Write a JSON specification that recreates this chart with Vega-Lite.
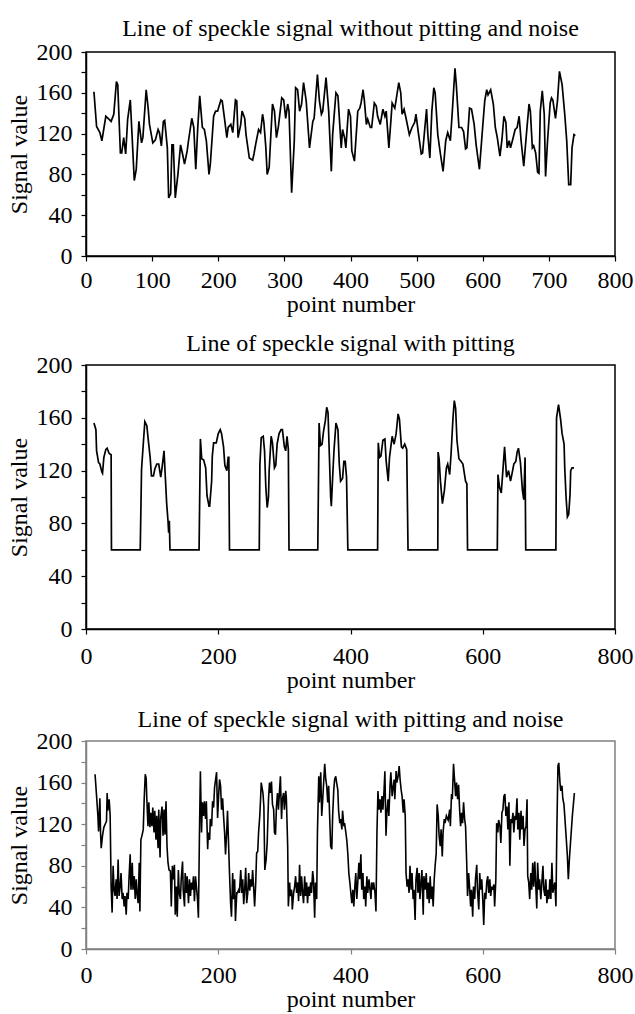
{
  "$schema": "https://vega.github.io/schema/vega-lite/v6.json",
  "padding": {"left": 6, "top": 16, "right": 0, "bottom": 0},
  "spacing": 14,
  "config": {
    "font": "Liberation Serif",
    "view": {"stroke": "black", "strokeWidth": 1.5},
    "axis": {
      "grid": false,
      "labelFont": "Liberation Serif", "labelFontSize": 24, "labelColor": "black",
      "titleFont": "Liberation Serif", "titleFontSize": 24, "titleFontWeight": "normal", "titleColor": "black",
      "domainColor": "black", "domainWidth": 1.5, "tickColor": "black", "tickWidth": 1.2, "tickSize": 5,
      "labelOverlap": false, "labelFlush": false
    },
    "axisX": {"labelPadding": 7, "titlePadding": 0},
    "axisY": {"labelPadding": 9, "titlePadding": 5},
    "title": {"font": "Liberation Serif", "fontSize": 24, "fontWeight": "normal", "color": "black", "offset": -1}
  },
  "datasets": {
    "p1": [
      {"x":12,"y":161},{"x":16,"y":127},{"x":21,"y":121},{"x":24,"y":113},{"x":30,"y":137},{"x":35,"y":134},{"x":38,"y":132},{"x":42,"y":139},{"x":46,"y":171},{"x":48,"y":168},{"x":52,"y":101},{"x":54,"y":101},{"x":57,"y":116},{"x":60,"y":100},{"x":63,"y":134},{"x":67,"y":153},{"x":69,"y":127},{"x":73,"y":74},{"x":76,"y":85},{"x":80,"y":132},{"x":84,"y":111},{"x":86,"y":116},{"x":91,"y":163},{"x":94,"y":145},{"x":96,"y":129},{"x":101,"y":111},{"x":105,"y":114},{"x":109,"y":124},{"x":111,"y":121},{"x":114,"y":108},{"x":117,"y":132},{"x":119,"y":133},{"x":123,"y":106},{"x":125,"y":57},{"x":128,"y":61},{"x":130,"y":109},{"x":132,"y":109},{"x":135,"y":57},{"x":139,"y":80},{"x":143,"y":109},{"x":146,"y":100},{"x":149,"y":90},{"x":153,"y":103},{"x":155,"y":113},{"x":160,"y":135},{"x":163,"y":126},{"x":166,"y":85},{"x":169,"y":126},{"x":172,"y":157},{"x":176,"y":126},{"x":179,"y":124},{"x":182,"y":113},{"x":186,"y":80},{"x":188,"y":90},{"x":193,"y":137},{"x":196,"y":142},{"x":199,"y":142},{"x":204,"y":153},{"x":206,"y":152},{"x":210,"y":132},{"x":213,"y":116},{"x":215,"y":126},{"x":219,"y":129},{"x":222,"y":121},{"x":226,"y":153},{"x":228,"y":152},{"x":230,"y":116},{"x":234,"y":129},{"x":236,"y":142},{"x":240,"y":135},{"x":242,"y":119},{"x":247,"y":96},{"x":252,"y":94},{"x":254,"y":100},{"x":257,"y":111},{"x":261,"y":124},{"x":264,"y":121},{"x":267,"y":139},{"x":269,"y":131},{"x":272,"y":106},{"x":274,"y":80},{"x":277,"y":87},{"x":282,"y":149},{"x":285,"y":142},{"x":288,"y":116},{"x":291,"y":127},{"x":296,"y":155},{"x":299,"y":153},{"x":302,"y":135},{"x":305,"y":149},{"x":307,"y":142},{"x":311,"y":62},{"x":315,"y":113},{"x":317,"y":165},{"x":320,"y":163},{"x":323,"y":142},{"x":326,"y":149},{"x":329,"y":170},{"x":333,"y":152},{"x":338,"y":106},{"x":343,"y":132},{"x":345,"y":135},{"x":350,"y":178},{"x":353,"y":152},{"x":356,"y":139},{"x":358,"y":142},{"x":363,"y":175},{"x":367,"y":142},{"x":371,"y":83},{"x":373,"y":119},{"x":378,"y":160},{"x":381,"y":157},{"x":386,"y":106},{"x":388,"y":124},{"x":391,"y":116},{"x":393,"y":106},{"x":397,"y":144},{"x":400,"y":137},{"x":402,"y":103},{"x":406,"y":93},{"x":411,"y":142},{"x":414,"y":145},{"x":416,"y":150},{"x":419,"y":163},{"x":421,"y":152},{"x":424,"y":129},{"x":426,"y":134},{"x":430,"y":126},{"x":432,"y":126},{"x":436,"y":150},{"x":439,"y":147},{"x":441,"y":137},{"x":445,"y":129},{"x":449,"y":144},{"x":452,"y":137},{"x":454,"y":142},{"x":458,"y":106},{"x":461,"y":132},{"x":463,"y":150},{"x":467,"y":145},{"x":469,"y":153},{"x":473,"y":170},{"x":476,"y":160},{"x":478,"y":139},{"x":481,"y":144},{"x":484,"y":135},{"x":489,"y":119},{"x":493,"y":126},{"x":497,"y":131},{"x":499,"y":139},{"x":503,"y":119},{"x":507,"y":100},{"x":509,"y":101},{"x":515,"y":144},{"x":517,"y":119},{"x":520,"y":96},{"x":523,"y":142},{"x":526,"y":165},{"x":528,"y":160},{"x":532,"y":119},{"x":536,"y":100},{"x":540,"y":83},{"x":544,"y":113},{"x":547,"y":121},{"x":551,"y":113},{"x":554,"y":142},{"x":558,"y":184},{"x":560,"y":168},{"x":564,"y":126},{"x":568,"y":126},{"x":571,"y":122},{"x":574,"y":105},{"x":576,"y":106},{"x":580,"y":145},{"x":583,"y":144},{"x":587,"y":129},{"x":590,"y":109},{"x":595,"y":85},{"x":599,"y":119},{"x":603,"y":152},{"x":606,"y":163},{"x":608,"y":158},{"x":612,"y":163},{"x":616,"y":149},{"x":619,"y":126},{"x":622,"y":116},{"x":626,"y":98},{"x":629,"y":114},{"x":632,"y":137},{"x":635,"y":131},{"x":637,"y":106},{"x":640,"y":113},{"x":642,"y":106},{"x":646,"y":116},{"x":649,"y":124},{"x":652,"y":126},{"x":655,"y":137},{"x":658,"y":113},{"x":662,"y":88},{"x":666,"y":119},{"x":670,"y":149},{"x":672,"y":142},{"x":675,"y":106},{"x":677,"y":108},{"x":680,"y":101},{"x":683,"y":82},{"x":685,"y":81},{"x":687,"y":142},{"x":690,"y":162},{"x":693,"y":139},{"x":695,"y":78},{"x":698,"y":113},{"x":702,"y":150},{"x":704,"y":155},{"x":706,"y":153},{"x":710,"y":135},{"x":713,"y":152},{"x":716,"y":181},{"x":720,"y":168},{"x":724,"y":139},{"x":727,"y":113},{"x":730,"y":70},{"x":733,"y":70},{"x":735,"y":106},{"x":738,"y":119},{"x":740,"y":118}
    ],
    "p2": [
      {"x":12,"y":156},{"x":15,"y":151},{"x":16,"y":135},{"x":19,"y":126},{"x":21,"y":125},{"x":24,"y":119},{"x":25,"y":118},{"x":27,"y":130},{"x":30,"y":136},{"x":32,"y":137},{"x":35,"y":133},{"x":38,"y":132},{"x":38.5,"y":60},{"x":82,"y":60},{"x":84,"y":121},{"x":87,"y":143},{"x":89,"y":157},{"x":92,"y":154},{"x":94,"y":144},{"x":97,"y":130},{"x":99,"y":116},{"x":102,"y":116},{"x":104,"y":121},{"x":107,"y":125},{"x":110,"y":125},{"x":113,"y":115},{"x":115,"y":122},{"x":118,"y":135},{"x":120,"y":115},{"x":122,"y":95},{"x":124,"y":82},{"x":125,"y":73},{"x":126,"y":82},{"x":127,"y":60},{"x":171,"y":60},{"x":173,"y":144},{"x":175,"y":129},{"x":178,"y":128},{"x":181,"y":122},{"x":183,"y":101},{"x":186,"y":93},{"x":187,"y":93},{"x":190,"y":112},{"x":191,"y":131},{"x":193,"y":141},{"x":197,"y":141},{"x":200,"y":148},{"x":203,"y":151},{"x":205,"y":148},{"x":208,"y":138},{"x":210,"y":124},{"x":213,"y":120},{"x":215,"y":130},{"x":216,"y":130},{"x":217,"y":60},{"x":262,"y":60},{"x":263,"y":125},{"x":265,"y":145},{"x":268,"y":146},{"x":270,"y":135},{"x":272,"y":107},{"x":274,"y":92},{"x":276,"y":100},{"x":277,"y":120},{"x":280,"y":146},{"x":282,"y":141},{"x":285,"y":122},{"x":287,"y":124},{"x":289,"y":140},{"x":292,"y":148},{"x":295,"y":151},{"x":297,"y":151},{"x":300,"y":138},{"x":302,"y":135},{"x":304,"y":146},{"x":306,"y":136},{"x":307,"y":60},{"x":350.5,"y":60},{"x":352.5,"y":156},{"x":354.5,"y":139},{"x":357,"y":140},{"x":359,"y":149},{"x":362,"y":158},{"x":364,"y":168},{"x":366,"y":164},{"x":368,"y":132},{"x":370,"y":100},{"x":371,"y":93},{"x":373,"y":115},{"x":375,"y":135},{"x":378,"y":156},{"x":381,"y":151},{"x":383,"y":125},{"x":385,"y":112},{"x":388,"y":114},{"x":390,"y":127},{"x":392,"y":127},{"x":394,"y":115},{"x":396,"y":60},{"x":441,"y":60},{"x":442,"y":141},{"x":444,"y":130},{"x":446,"y":131},{"x":449,"y":143},{"x":452,"y":144},{"x":454,"y":127},{"x":457,"y":112},{"x":459,"y":130},{"x":463,"y":146},{"x":466,"y":140},{"x":469,"y":148},{"x":472,"y":163},{"x":474,"y":159},{"x":477,"y":138},{"x":479,"y":137},{"x":482,"y":140},{"x":485,"y":136},{"x":487,"y":60},{"x":532,"y":60},{"x":532.5,"y":134},{"x":534,"y":129},{"x":536,"y":112},{"x":539,"y":95},{"x":542,"y":105},{"x":545,"y":122},{"x":547,"y":125},{"x":550,"y":117},{"x":552,"y":132},{"x":555,"y":160},{"x":557,"y":173},{"x":559,"y":167},{"x":561,"y":143},{"x":564,"y":129},{"x":567,"y":127},{"x":570,"y":125},{"x":574,"y":112},{"x":576,"y":110},{"x":577,"y":60},{"x":622,"y":60},{"x":623,"y":117},{"x":625.5,"y":107},{"x":628,"y":103},{"x":631,"y":124},{"x":633,"y":138},{"x":636,"y":115},{"x":639,"y":120},{"x":642,"y":112},{"x":644,"y":117},{"x":647,"y":125},{"x":650,"y":127},{"x":652,"y":134},{"x":654,"y":137},{"x":657,"y":126},{"x":660,"y":105},{"x":662,"y":98},{"x":664,"y":130},{"x":665,"y":60},{"x":710.6,"y":60},{"x":711.6,"y":160},{"x":714.6,"y":170},{"x":717.7,"y":159},{"x":720,"y":148},{"x":723,"y":140},{"x":724,"y":122},{"x":726,"y":100},{"x":728,"y":85},{"x":730,"y":87},{"x":732,"y":102},{"x":733,"y":120},{"x":735,"y":122},{"x":738,"y":122}
    ],
    "p3": [
      {"x":13.7,"y":168},{"x":16,"y":147},{"x":18,"y":128},{"x":19,"y":113},{"x":21,"y":145},{"x":22,"y":112},{"x":23,"y":97},{"x":25,"y":109},{"x":27,"y":117},{"x":29,"y":120},{"x":31,"y":123},{"x":32,"y":150},{"x":33,"y":133},{"x":35,"y":144},{"x":36.5,"y":129},{"x":38,"y":60},{"x":39.5,"y":35},{"x":41,"y":80},{"x":42.5,"y":57},{"x":44,"y":51},{"x":45.6,"y":67},{"x":47,"y":48},{"x":48.6,"y":86},{"x":50,"y":51},{"x":51.6,"y":60},{"x":53,"y":73},{"x":54.7,"y":48},{"x":56,"y":54},{"x":57.7,"y":41},{"x":59,"y":51},{"x":60.8,"y":33},{"x":62,"y":54},{"x":63.8,"y":48},{"x":65,"y":67},{"x":66.8,"y":91},{"x":68,"y":57},{"x":70,"y":83},{"x":71,"y":57},{"x":73,"y":70},{"x":74.4,"y":48},{"x":76,"y":67},{"x":77.5,"y":51},{"x":79,"y":44},{"x":80.5,"y":83},{"x":81.5,"y":36},{"x":83,"y":105},{"x":85,"y":110},{"x":86.6,"y":115},{"x":88,"y":144},{"x":89.6,"y":168},{"x":91,"y":164},{"x":92,"y":144},{"x":93.7,"y":118},{"x":95,"y":141},{"x":96.7,"y":117},{"x":98,"y":131},{"x":99.7,"y":118},{"x":101,"y":136},{"x":102.8,"y":112},{"x":104,"y":133},{"x":105.8,"y":105},{"x":107,"y":128},{"x":109,"y":97},{"x":110,"y":134},{"x":112,"y":88},{"x":113,"y":126},{"x":115,"y":137},{"x":116.5,"y":109},{"x":118,"y":134},{"x":119.5,"y":110},{"x":121,"y":142},{"x":122.5,"y":99},{"x":124,"y":83},{"x":125.6,"y":76},{"x":127.6,"y":75},{"x":129,"y":41},{"x":130.6,"y":80},{"x":132,"y":67},{"x":133.7,"y":81},{"x":135,"y":33},{"x":136.7,"y":60},{"x":138,"y":31},{"x":139.7,"y":76},{"x":141,"y":54},{"x":142.8,"y":48},{"x":144,"y":67},{"x":146,"y":84},{"x":147,"y":57},{"x":149,"y":41},{"x":150,"y":73},{"x":152,"y":54},{"x":153,"y":70},{"x":155,"y":44},{"x":156.5,"y":67},{"x":158,"y":51},{"x":159.5,"y":64},{"x":161,"y":57},{"x":162.5,"y":70},{"x":164,"y":46},{"x":165.6,"y":70},{"x":167,"y":60},{"x":168.6,"y":48},{"x":170,"y":30},{"x":171.6,"y":112},{"x":173,"y":171},{"x":174.7,"y":112},{"x":176,"y":141},{"x":177.7,"y":128},{"x":179,"y":142},{"x":180.8,"y":125},{"x":182,"y":142},{"x":184,"y":96},{"x":185,"y":112},{"x":187,"y":105},{"x":188,"y":125},{"x":190,"y":118},{"x":191.4,"y":142},{"x":193,"y":136},{"x":194.4,"y":155},{"x":196,"y":163},{"x":197.5,"y":170},{"x":199,"y":126},{"x":200.5,"y":147},{"x":202,"y":163},{"x":203.5,"y":157},{"x":205,"y":134},{"x":206.6,"y":145},{"x":208,"y":128},{"x":209.6,"y":112},{"x":211,"y":91},{"x":212.7,"y":112},{"x":214,"y":133},{"x":215.7,"y":99},{"x":217,"y":73},{"x":218.7,"y":44},{"x":220,"y":31},{"x":221.8,"y":73},{"x":223,"y":48},{"x":224.8,"y":67},{"x":226,"y":27},{"x":228,"y":54},{"x":229,"y":54},{"x":231,"y":57},{"x":232,"y":54},{"x":234,"y":76},{"x":235.6,"y":54},{"x":237,"y":67},{"x":238.5,"y":43},{"x":240,"y":57},{"x":241.5,"y":78},{"x":243,"y":44},{"x":244.6,"y":54},{"x":246,"y":73},{"x":247.6,"y":56},{"x":249,"y":67},{"x":250.6,"y":60},{"x":252,"y":76},{"x":253.7,"y":57},{"x":255,"y":41},{"x":256.7,"y":64},{"x":258,"y":92},{"x":259.7,"y":94},{"x":261,"y":112},{"x":262.8,"y":128},{"x":264,"y":144},{"x":265,"y":160},{"x":267.6,"y":150},{"x":269,"y":137},{"x":270.4,"y":76},{"x":272.4,"y":86},{"x":274,"y":102},{"x":276,"y":144},{"x":277.5,"y":160},{"x":279,"y":150},{"x":280.5,"y":161},{"x":282,"y":139},{"x":283.8,"y":134},{"x":285,"y":112},{"x":286.6,"y":110},{"x":288,"y":137},{"x":289.6,"y":150},{"x":291,"y":134},{"x":292.7,"y":152},{"x":294,"y":166},{"x":295.7,"y":125},{"x":297,"y":144},{"x":298.8,"y":150},{"x":300,"y":134},{"x":302,"y":152},{"x":303,"y":145},{"x":305,"y":99},{"x":306,"y":41},{"x":308,"y":64},{"x":309,"y":51},{"x":311,"y":57},{"x":312,"y":38},{"x":314,"y":54},{"x":315.5,"y":60},{"x":317,"y":70},{"x":318.5,"y":54},{"x":320,"y":64},{"x":321.5,"y":46},{"x":323,"y":81},{"x":324.6,"y":51},{"x":326,"y":70},{"x":327.6,"y":54},{"x":329,"y":44},{"x":330.7,"y":70},{"x":332,"y":51},{"x":333.7,"y":64},{"x":335,"y":44},{"x":336.7,"y":60},{"x":338,"y":51},{"x":339.8,"y":64},{"x":341,"y":54},{"x":342.8,"y":75},{"x":344,"y":67},{"x":345.8,"y":30},{"x":347,"y":64},{"x":348.9,"y":48},{"x":350,"y":112},{"x":352,"y":166},{"x":353,"y":141},{"x":355,"y":170},{"x":356.5,"y":128},{"x":358,"y":144},{"x":359.5,"y":161},{"x":361,"y":178},{"x":362.6,"y":163},{"x":364,"y":157},{"x":365.6,"y":141},{"x":367,"y":157},{"x":368.6,"y":125},{"x":370,"y":99},{"x":371.7,"y":96},{"x":373,"y":128},{"x":374.7,"y":153},{"x":376,"y":163},{"x":377.7,"y":166},{"x":379,"y":160},{"x":380.8,"y":153},{"x":382,"y":133},{"x":383.8,"y":121},{"x":385,"y":125},{"x":387,"y":115},{"x":388,"y":133},{"x":390,"y":118},{"x":391,"y":121},{"x":393,"y":112},{"x":394.5,"y":104},{"x":396,"y":91},{"x":397.5,"y":73},{"x":399,"y":64},{"x":400.5,"y":54},{"x":402,"y":44},{"x":403.6,"y":57},{"x":405,"y":41},{"x":406.6,"y":60},{"x":408,"y":73},{"x":409.6,"y":48},{"x":411,"y":64},{"x":412.7,"y":83},{"x":414,"y":67},{"x":415.7,"y":91},{"x":417,"y":57},{"x":418.8,"y":73},{"x":420,"y":48},{"x":421.8,"y":60},{"x":423,"y":41},{"x":424.8,"y":70},{"x":426,"y":54},{"x":428,"y":67},{"x":429,"y":60},{"x":431,"y":48},{"x":432,"y":64},{"x":434,"y":57},{"x":435,"y":64},{"x":437,"y":54},{"x":438.5,"y":36},{"x":440,"y":112},{"x":441.5,"y":152},{"x":443,"y":134},{"x":444.6,"y":144},{"x":446,"y":131},{"x":447.6,"y":147},{"x":449,"y":134},{"x":450.7,"y":152},{"x":452,"y":171},{"x":453.7,"y":109},{"x":455,"y":131},{"x":456.8,"y":144},{"x":458,"y":128},{"x":459.8,"y":157},{"x":461,"y":170},{"x":463,"y":147},{"x":464,"y":153},{"x":466,"y":163},{"x":467,"y":144},{"x":469,"y":171},{"x":470,"y":160},{"x":472,"y":166},{"x":473.6,"y":176},{"x":475,"y":163},{"x":476.6,"y":153},{"x":478,"y":147},{"x":479.8,"y":131},{"x":481,"y":144},{"x":482.8,"y":128},{"x":484,"y":73},{"x":485.6,"y":60},{"x":487,"y":67},{"x":488.6,"y":54},{"x":490,"y":80},{"x":491.7,"y":57},{"x":493,"y":73},{"x":494.7,"y":48},{"x":496,"y":57},{"x":497.7,"y":28},{"x":499,"y":67},{"x":500.8,"y":78},{"x":502,"y":54},{"x":503.8,"y":73},{"x":505,"y":48},{"x":507,"y":67},{"x":508,"y":76},{"x":510,"y":33},{"x":511,"y":70},{"x":513,"y":57},{"x":514.5,"y":73},{"x":516,"y":48},{"x":517.5,"y":64},{"x":519,"y":44},{"x":520.5,"y":70},{"x":522,"y":48},{"x":523.6,"y":60},{"x":525,"y":41},{"x":526.6,"y":67},{"x":528,"y":80},{"x":529.6,"y":92},{"x":531,"y":139},{"x":532.7,"y":128},{"x":534,"y":109},{"x":535.7,"y":99},{"x":537,"y":115},{"x":538.8,"y":89},{"x":540,"y":112},{"x":541.8,"y":125},{"x":543,"y":121},{"x":545,"y":128},{"x":547.7,"y":124},{"x":550,"y":134},{"x":551,"y":118},{"x":552.8,"y":149},{"x":554,"y":144},{"x":555.8,"y":178},{"x":557,"y":166},{"x":559,"y":147},{"x":560.4,"y":160},{"x":562,"y":144},{"x":563.5,"y":158},{"x":565,"y":134},{"x":566.5,"y":118},{"x":568,"y":131},{"x":569.5,"y":121},{"x":571,"y":141},{"x":572.6,"y":125},{"x":574,"y":118},{"x":575.6,"y":86},{"x":577,"y":51},{"x":578.7,"y":73},{"x":580,"y":60},{"x":581.7,"y":41},{"x":583,"y":57},{"x":584.8,"y":31},{"x":586,"y":60},{"x":587.8,"y":48},{"x":589,"y":67},{"x":590.9,"y":81},{"x":592,"y":57},{"x":594,"y":38},{"x":595.4,"y":73},{"x":597,"y":57},{"x":598.5,"y":67},{"x":600,"y":48},{"x":601.5,"y":23},{"x":603,"y":54},{"x":604.6,"y":48},{"x":606,"y":64},{"x":607.6,"y":70},{"x":609,"y":54},{"x":610.7,"y":67},{"x":612,"y":51},{"x":613.7,"y":60},{"x":615,"y":57},{"x":616.8,"y":62},{"x":618,"y":41},{"x":619.8,"y":67},{"x":621,"y":121},{"x":622.8,"y":112},{"x":624,"y":124},{"x":626,"y":118},{"x":627.4,"y":102},{"x":629,"y":131},{"x":630.5,"y":134},{"x":632,"y":147},{"x":633.5,"y":149},{"x":635,"y":128},{"x":636.5,"y":137},{"x":638,"y":115},{"x":639.6,"y":141},{"x":641,"y":80},{"x":642.6,"y":125},{"x":644,"y":121},{"x":645.7,"y":131},{"x":647,"y":112},{"x":648.7,"y":128},{"x":650,"y":124},{"x":651.8,"y":145},{"x":653,"y":115},{"x":654.8,"y":131},{"x":656,"y":105},{"x":657.9,"y":133},{"x":659,"y":115},{"x":661,"y":128},{"x":662.4,"y":99},{"x":664,"y":115},{"x":665.5,"y":118},{"x":667,"y":144},{"x":668,"y":70},{"x":669.5,"y":64},{"x":671,"y":48},{"x":672.6,"y":73},{"x":674,"y":57},{"x":675.6,"y":83},{"x":677,"y":60},{"x":678.7,"y":84},{"x":680,"y":64},{"x":681.7,"y":39},{"x":683,"y":83},{"x":684.8,"y":57},{"x":686,"y":67},{"x":687.8,"y":48},{"x":689,"y":60},{"x":691,"y":80},{"x":692.4,"y":57},{"x":694,"y":51},{"x":695.4,"y":67},{"x":697,"y":44},{"x":698.5,"y":57},{"x":700,"y":48},{"x":701.5,"y":67},{"x":703,"y":48},{"x":704.6,"y":83},{"x":706,"y":54},{"x":707.6,"y":60},{"x":709,"y":64},{"x":710.7,"y":41},{"x":712,"y":112},{"x":713.7,"y":176},{"x":715,"y":179},{"x":716.8,"y":160},{"x":718,"y":152},{"x":719.8,"y":157},{"x":721,"y":145},{"x":722.8,"y":139},{"x":724,"y":128},{"x":726,"y":109},{"x":728,"y":89},{"x":729.4,"y":67},{"x":731,"y":86},{"x":733,"y":105},{"x":735.5,"y":128},{"x":738.6,"y":150}
    ]
  },
  "vconcat": [
    {
      "width": 529, "height": 204,
      "title": {"text": "Line of speckle signal without pitting and noise"},
      "data": {"name": "p1"},
      "mark": {"type": "line", "color": "black", "strokeWidth": 1.7},
      "encoding": {
        "x": {"field": "x", "type": "quantitative", "scale": {"domain": [0, 800], "nice": false},
              "axis": {"title": "point number", "values": [0, 100, 200, 300, 400, 500, 600, 700, 800]}},
        "y": {"field": "y", "type": "quantitative", "scale": {"domain": [0, 200], "nice": false},
              "axis": {"title": "Signal value", "values": [0, 20, 40, 60, 80, 100, 120, 140, 160, 180, 200], "labelExpr": "datum.value % 40 === 0 ? datum.label : ''"}}
      }
    },
    {
      "width": 529, "height": 264,
      "title": {"text": "Line of speckle signal with pitting", "offset": -3},
      "data": {"name": "p2"},
      "mark": {"type": "line", "color": "black", "strokeWidth": 1.7},
      "encoding": {
        "x": {"field": "x", "type": "quantitative", "scale": {"domain": [0, 800], "nice": false},
              "axis": {"title": "point number", "values": [0, 200, 400, 600, 800], "labelPadding": 10, "titlePadding": 0}},
        "y": {"field": "y", "type": "quantitative", "scale": {"domain": [0, 200], "nice": false},
              "axis": {"title": "Signal value", "values": [0, 20, 40, 60, 80, 100, 120, 140, 160, 180, 200], "labelExpr": "datum.value % 40 === 0 ? datum.label : ''"}}
      }
    },
    {
      "width": 529, "height": 208,
      "title": {"text": "Line of speckle signal with pitting and noise", "offset": -3},
      "data": {"name": "p3"},
      "view": {"stroke": "#808080", "strokeWidth": 1.5},
      "mark": {"type": "line", "color": "black", "strokeWidth": 1.6},
      "encoding": {
        "x": {"field": "x", "type": "quantitative", "scale": {"domain": [0, 800], "nice": false},
              "axis": {"title": "point number", "values": [0, 200, 400, 600, 800], "labelPadding": 9, "titlePadding": 0, "domainColor": "#808080", "tickColor": "#808080"}},
        "y": {"field": "y", "type": "quantitative", "scale": {"domain": [0, 200], "nice": false},
              "axis": {"title": "Signal value", "values": [0, 20, 40, 60, 80, 100, 120, 140, 160, 180, 200], "labelExpr": "datum.value % 40 === 0 ? datum.label : ''", "domainColor": "#808080", "tickColor": "#808080"}}
      }
    }
  ]
}
